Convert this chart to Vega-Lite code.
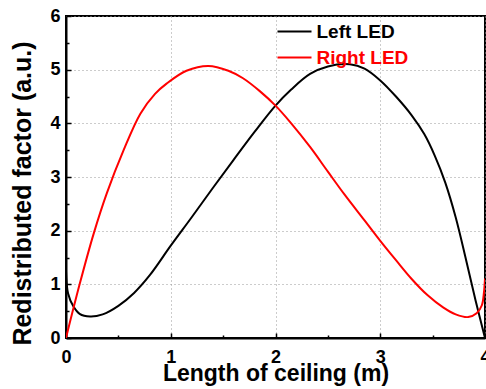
{
  "$schema": "https://vega.github.io/schema/vega-lite/v6.json",
  "width": 419,
  "height": 322,
  "autosize": "none",
  "padding": {"left": 66, "top": 16, "right": 1, "bottom": 51},
  "background": "white",
  "config": {
    "view": {"stroke": "#000000", "strokeWidth": 2},
    "font": "Liberation Sans",
    "axis": {
      "domainColor": "#000000",
      "domainWidth": 2,
      "tickColor": "#000000",
      "tickWidth": 1.5,
      "labelFont": "Liberation Sans",
      "labelFontWeight": "bold",
      "labelFontSize": 18,
      "labelColor": "#000000",
      "titleFont": "Liberation Sans",
      "titleFontWeight": "bold",
      "titleColor": "#000000",
      "gridColor": "#999999",
      "gridDash": [1, 3],
      "gridWidth": 1
    }
  },
  "data": {
    "values": [
      {"x": 0, "y": 1.25, "s": "Left LED"},
      {"x": 0.02, "y": 0.83, "s": "Left LED"},
      {"x": 0.07, "y": 0.59, "s": "Left LED"},
      {"x": 0.13, "y": 0.45, "s": "Left LED"},
      {"x": 0.23, "y": 0.40, "s": "Left LED"},
      {"x": 0.35, "y": 0.44, "s": "Left LED"},
      {"x": 0.5, "y": 0.6, "s": "Left LED"},
      {"x": 0.65, "y": 0.84, "s": "Left LED"},
      {"x": 0.8, "y": 1.17, "s": "Left LED"},
      {"x": 1.0, "y": 1.72, "s": "Left LED"},
      {"x": 1.2, "y": 2.25, "s": "Left LED"},
      {"x": 1.4, "y": 2.79, "s": "Left LED"},
      {"x": 1.6, "y": 3.32, "s": "Left LED"},
      {"x": 1.8, "y": 3.84, "s": "Left LED"},
      {"x": 2.0, "y": 4.33, "s": "Left LED"},
      {"x": 2.15, "y": 4.63, "s": "Left LED"},
      {"x": 2.33, "y": 4.92, "s": "Left LED"},
      {"x": 2.5, "y": 5.06, "s": "Left LED"},
      {"x": 2.71, "y": 5.10, "s": "Left LED"},
      {"x": 2.85, "y": 5.02, "s": "Left LED"},
      {"x": 3.0, "y": 4.80, "s": "Left LED"},
      {"x": 3.15, "y": 4.50, "s": "Left LED"},
      {"x": 3.3, "y": 4.15, "s": "Left LED"},
      {"x": 3.42, "y": 3.8, "s": "Left LED"},
      {"x": 3.52, "y": 3.4, "s": "Left LED"},
      {"x": 3.62, "y": 2.9, "s": "Left LED"},
      {"x": 3.72, "y": 2.25, "s": "Left LED"},
      {"x": 3.82, "y": 1.45, "s": "Left LED"},
      {"x": 3.91, "y": 0.7, "s": "Left LED"},
      {"x": 4.0, "y": 0.0, "s": "Left LED"},
      {"x": 0, "y": 0, "s": "Right LED"},
      {"x": 0.13, "y": 1.0, "s": "Right LED"},
      {"x": 0.265, "y": 1.95, "s": "Right LED"},
      {"x": 0.39, "y": 2.7, "s": "Right LED"},
      {"x": 0.55, "y": 3.5, "s": "Right LED"},
      {"x": 0.71, "y": 4.18, "s": "Right LED"},
      {"x": 0.85, "y": 4.55, "s": "Right LED"},
      {"x": 0.96, "y": 4.74, "s": "Right LED"},
      {"x": 1.15, "y": 4.98, "s": "Right LED"},
      {"x": 1.36, "y": 5.07, "s": "Right LED"},
      {"x": 1.55, "y": 4.98, "s": "Right LED"},
      {"x": 1.69, "y": 4.84, "s": "Right LED"},
      {"x": 1.85, "y": 4.6, "s": "Right LED"},
      {"x": 2.0, "y": 4.33, "s": "Right LED"},
      {"x": 2.15, "y": 4.0, "s": "Right LED"},
      {"x": 2.33, "y": 3.56, "s": "Right LED"},
      {"x": 2.5, "y": 3.1, "s": "Right LED"},
      {"x": 2.66, "y": 2.67, "s": "Right LED"},
      {"x": 2.85, "y": 2.19, "s": "Right LED"},
      {"x": 3.0, "y": 1.81, "s": "Right LED"},
      {"x": 3.15, "y": 1.45, "s": "Right LED"},
      {"x": 3.3, "y": 1.1, "s": "Right LED"},
      {"x": 3.45, "y": 0.8, "s": "Right LED"},
      {"x": 3.6, "y": 0.57, "s": "Right LED"},
      {"x": 3.72, "y": 0.44, "s": "Right LED"},
      {"x": 3.84, "y": 0.39, "s": "Right LED"},
      {"x": 3.92, "y": 0.46, "s": "Right LED"},
      {"x": 3.97, "y": 0.61, "s": "Right LED"},
      {"x": 3.99, "y": 0.85, "s": "Right LED"},
      {"x": 4.0, "y": 1.11, "s": "Right LED"}
    ]
  },
  "mark": {"type": "line", "strokeWidth": 2, "clip": true, "interpolate": "catmull-rom"},
  "encoding": {
    "x": {
      "field": "x",
      "type": "quantitative",
      "scale": {"domain": [0, 4], "nice": false},
      "axis": {
        "title": "Length of ceiling (m)",
        "titleFontSize": 23,
        "titleBaseline": "alphabetic",
        "titleY": 42,
        "values": [0, 0.5, 1, 1.5, 2, 2.5, 3, 3.5, 4],
        "labelExpr": "datum.value % 1 === 0 ? format(datum.value, 'd') : ''",
        "tickSize": {"condition": {"test": "datum.value % 1 !== 0", "value": -3}, "value": -5},
        "gridOpacity": {"condition": {"test": "datum.value % 1 !== 0", "value": 0}, "value": 1},
        "grid": true,
        "labelPadding": 15,
        "labelFlush": false
      }
    },
    "y": {
      "field": "y",
      "type": "quantitative",
      "scale": {"domain": [0, 6], "nice": false},
      "axis": {
        "title": "Redistributed factor (a.u.)",
        "titleFontSize": 25,
        "titleX": -31,
        "titleY": 177,
        "titleBaseline": "bottom",
        "values": [0, 0.5, 1, 1.5, 2, 2.5, 3, 3.5, 4, 4.5, 5, 5.5, 6],
        "labelExpr": "datum.value % 1 === 0 ? format(datum.value, 'd') : ''",
        "tickSize": {"condition": {"test": "datum.value % 1 !== 0", "value": -3}, "value": -5},
        "gridOpacity": {"condition": {"test": "datum.value % 1 !== 0", "value": 0}, "value": 1},
        "grid": true,
        "labelPadding": 11
      }
    },
    "color": {
      "field": "s",
      "type": "nominal",
      "scale": {"domain": ["Left LED", "Right LED"], "range": ["#000000", "#ff0000"]},
      "legend": {
        "title": null,
        "orient": "none",
        "legendX": 219,
        "legendY": 6,
        "symbolType": "M-2,0H2",
        "symbolSize": 289,
        "symbolStrokeWidth": 2,
        "labelFont": "Liberation Sans",
        "labelFontWeight": "bold",
        "labelFontSize": 19,
        "labelOffset": 12.5,
        "rowPadding": 6,
        "labelLimit": 300,
        "encode": {
          "labels": {"update": {"fill": {"signal": "datum.label === 'Right LED' ? '#ff0000' : '#000000'"}}}
        }
      }
    }
  }
}
